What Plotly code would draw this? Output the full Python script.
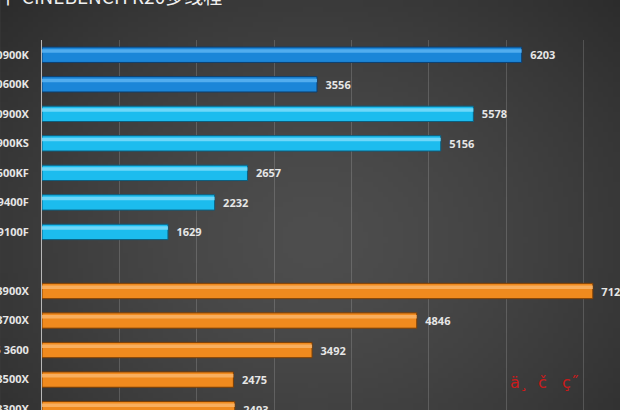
import zlib, struct, base64
import numpy as np
import plotly.graph_objects as go

# ---- data ----
cpus = ["i9 10900K", "i5 10600K", "i9 10900X", "i9 9900KS", "i5 9600KF", "i5 9400F", "i3 9100F",
        " ",
        "R9 3900X", "R7 3700X", "R5 3600", "R5 3500X", "R3 3300X"]
scores = [6203, 3556, 5578, 5156, 2657, 2232, 1629,
          None,
          7123, 4846, 3492, 2475, 2493]
groups = ["intel_hi", "intel_hi", "intel", "intel", "intel", "intel", "intel",
          "gap",
          "amd", "amd", "amd", "amd", "amd"]
title_text = "酷睿 vs 锐龙 丨 CINEBENCH R20多线程"
watermark = "ä¸  č   ç˝"

main_col = {"intel_hi": "#1b86d8", "intel": "#1cbcee", "amd": "#f08a1e", "gap": "#000000"}
hi_col = {"intel_hi": "#5cb4f2", "intel": "#7cdcfa", "amd": "#f9b46a", "gap": "#000000"}
edge_col = {"intel_hi": "#0d3f70", "intel": "#0b5f80", "amd": "#7a3e06", "gap": "#000000"}

W, H = 620, 410
ML, MR, MT, MB = 41.5, 0, 40, 0

# ---- background gradient as png data uri ----
def make_png(arr):
    h, w, _ = arr.shape
    raw = b"".join(b"\x00" + arr[i].tobytes() for i in range(h))
    def chunk(t, d):
        c = struct.pack(">I", len(d)) + t + d
        return c + struct.pack(">I", zlib.crc32(t + d) & 0xffffffff)
    return (b"\x89PNG\r\n\x1a\n" + chunk(b"IHDR", struct.pack(">IIBBBBB", w, h, 8, 2, 0, 0, 0))
            + chunk(b"IDAT", zlib.compress(raw, 9)) + chunk(b"IEND", b""))

gw, gh = 124, 82
yy, xx = np.mgrid[0:gh, 0:gw]
d = np.sqrt(((xx - gw * 0.5) / (gw * 0.6)) ** 2 + ((yy - gh * 0.58) / (gh * 0.75)) ** 2)
v = np.clip(78 - 28 * d ** 1.4, 40, 80)
img = np.stack([v, v, v], axis=-1).astype(np.uint8)
uri = "data:image/png;base64," + base64.b64encode(make_png(img)).decode()

pw = W - ML - MR
ph = H - MT - MB

fig = go.Figure()
fig.add_layout_image(dict(source=uri, xref="paper", yref="paper",
                          x=-ML / pw, y=1 + MT / ph, sizex=W / pw, sizey=H / ph,
                          xanchor="left", yanchor="top", sizing="stretch", layer="below"))

fig.add_trace(go.Bar(
    y=cpus, x=scores, orientation="h", width=0.52,
    marker=dict(color=[main_col[g] for g in groups],
                line=dict(color=[edge_col[g] for g in groups], width=1)),
    text=[("" if s is None else "\u2002" + str(s)) for s in scores],
    textposition="outside", cliponaxis=False,
    textfont=dict(family="Open Sans", size=11, color="#e6e6e6", weight="bold"),
    hoverinfo="skip", showlegend=False))

fig.add_trace(go.Bar(
    y=cpus, x=scores, orientation="h", width=0.12, offset=-0.19,
    marker=dict(color=[hi_col[g] for g in groups], line=dict(width=0), opacity=0.85),
    hoverinfo="skip", showlegend=False))

fig.add_annotation(text=title_text, xref="paper", yref="paper",
                   x=(224 - ML) / pw, y=1 + (MT - 11) / ph, xanchor="right", yanchor="bottom",
                   showarrow=False, font=dict(family="Noto Sans CJK SC", size=19, color="#f0f0f0"))

fig.add_annotation(text=watermark, xref="paper", yref="paper",
                   x=(544 - ML) / pw, y=(H - 382) / ph, xanchor="center", yanchor="middle",
                   showarrow=False, font=dict(family="DejaVu Sans", size=16, color="rgba(230,20,20,0.85)"))

fig.update_layout(
    width=W, height=H, barmode="overlay",
    margin=dict(l=ML, r=MR, t=MT, b=MB, pad=0),
    paper_bgcolor="#3a3a3a", plot_bgcolor="rgba(0,0,0,0)",
    xaxis=dict(range=[0, pw / 77.4 * 1000], dtick=1000, showticklabels=False,
               showgrid=True, gridcolor="rgba(255,255,255,0.16)", gridwidth=1,
               zeroline=False, showline=False, automargin=False, fixedrange=True),
    yaxis=dict(type="category", categoryorder="array", categoryarray=cpus,
               range=[12.03, -0.5], showgrid=False, zeroline=False,
               showline=True, linecolor="#b8b8b8", linewidth=1,
               ticks="", ticklabelstandoff=10, automargin=False,
               tickfont=dict(family="Open Sans", size=11, color="#e6e6e6", weight="bold")),
)

fig.write_html("out.html", config={"displayModeBar": False})

# remove default page margins so the figure fills the window
with open("out.html", "r", encoding="utf-8") as f:
    html = f.read()
html = html.replace("<head>", "<head><style>html,body{margin:0;padding:0;overflow:hidden;background:#3a3a3a}</style>", 1)
with open("out.html", "w", encoding="utf-8") as f:
    f.write(html)
